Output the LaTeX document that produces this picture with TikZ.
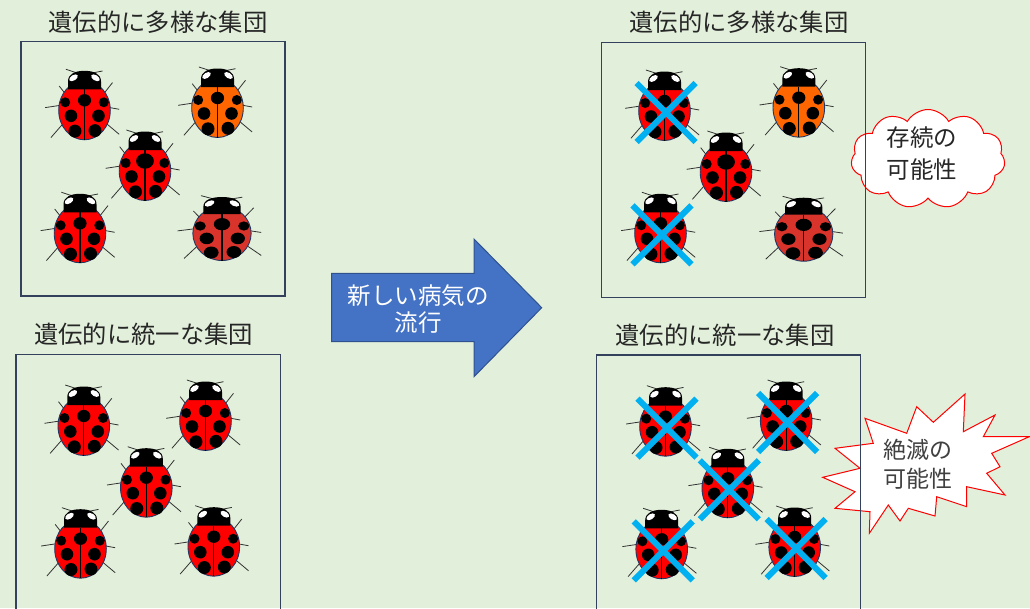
\documentclass[tikz,border=0pt]{standalone}
\usepackage{fontspec}
\setmainfont{Noto Sans CJK JP}
\usetikzlibrary{shapes.symbols}

\definecolor{bg}{HTML}{E2EFDA}
\definecolor{boxline}{HTML}{33415C}
\definecolor{titletext}{HTML}{262626}
\definecolor{bugred}{HTML}{FF0000}
\definecolor{bugorange}{HTML}{FF6600}
\definecolor{bugdark}{HTML}{D9342B}
\definecolor{bugedge}{HTML}{203864}
\definecolor{legline}{HTML}{333333}
\definecolor{crossblue}{HTML}{00B0F0}
\definecolor{arrowfill}{HTML}{4472C4}
\definecolor{arrowedge}{HTML}{2F528F}
\definecolor{burstgray}{HTML}{404040}

% one ladybug: #1 origin, #2 body colour, #3 x-scale, #4 y-scale, #5 centre-spot scale
\newcommand\ladybug[5]{%
  \pgfmathsetmacro\spotrx{6.6*#5}%
  \pgfmathsetmacro\spotry{6.2*(0.3+0.7*#5)}%
  \begin{scope}[shift={(#1)}, xscale=#3, yscale=#4]
    % antennae and legs
    \draw[bugleg] (-18.6,-43) -- (-5.3,-38.7);
    \draw[bugleg] (4.7,-38.7) -- (18,-41.3);
    \draw[bugleg] (-25.3,-26.3) -- (-18,-17);
    \draw[bugleg] (-39.3,-4.7) -- (-22,-7.3);
    \draw[bugleg] (-33.6,25.3) -- (-22,12);
    \draw[bugleg] (28,-29.7) -- (18,-17);
    \draw[bugleg] (34.7,-3) -- (22,-5.3);
    \draw[bugleg] (34.7,22) -- (21,10.5);
    % body
    \filldraw[fill=#2, draw=bugedge, line width=0.9pt] (0,-2) ellipse [x radius=25.8, y radius=29.5];
    % head
    \fill[black] (-16.5,-23) -- (-16.5,-31) .. controls (-16.5,-38.5) and (-9,-41.5) .. (0,-41.5)
      .. controls (9,-41.5) and (16.5,-38.5) .. (16.5,-31) -- (16.5,-23) -- cycle;
    % eye highlights
    \fill[white, rotate around={32:(-11,-34.5)}] (-11,-34.5) ellipse [x radius=4.8, y radius=2.7];
    \fill[white, rotate around={-32:(11,-34.5)}] (11,-34.5) ellipse [x radius=4.8, y radius=2.7];
    % wing seam
    \draw[black, line width=1.1pt] (0,-23) -- (0,27.5);
    % spots
    \fill[black] (-19.3,-10) circle [radius=5];
    \fill[black] (19.3,-10) circle [radius=5];
    \fill[black] (0,-12) ellipse [x radius=\spotrx, y radius=\spotry];
    \fill[black] (-13.5,3.5) circle [radius=6.3];
    \fill[black] (14,3.5) circle [radius=6.3];
    \fill[black] (-9.5,18.8) circle [radius=6.5];
    \fill[black] (10.5,18.3) circle [radius=6.5];
  \end{scope}}

% a blue X over a ladybug
\newcommand\crossout[1]{%
  \begin{scope}[shift={(#1)}]
    \draw[xmark] (-28,-30) -- (31,29);
    \draw[xmark] (31,-30) -- (-28,29);
  \end{scope}}

\begin{document}
\begin{tikzpicture}[x=1pt, y=-1pt,
  groupbox/.style={draw=boxline, line width=1.3pt, inner sep=0pt, fill=none},
  grouptitle/.style={text=titletext, font=\fontsize{24.3}{28}\selectfont, inner sep=0pt},
  bugleg/.style={draw=legline, line width=0.8pt},
  xmark/.style={draw=crossblue, line width=6pt},
  calltext/.style={align=center, inner sep=0pt, font=\fontsize{23}{31}\selectfont}]

\fill[bg] (0,0) rectangle (1030,608);
\useasboundingbox (0,0) rectangle (1030,608);

% speech shapes on the right
\node[cloud, cloud puffs=11, cloud puff arc=120, aspect=1.6, draw=red, fill=white,
  line width=1pt, minimum width=154pt, minimum height=99pt, inner sep=0pt] (hope) at (928,159) {};
\node[calltext, text=titletext, font=\fontsize{23.5}{32}\selectfont] (hopetext) at (922,154) {存続の\\可能性};

\draw[red, fill=white, line width=1pt]
  (965,394) -- (963.3,431.7) -- (995,415) -- (983.3,436.7) -- (1029.3,436.7)
  -- (991.7,453.3) -- (1000,466.7) -- (986.7,473.3) -- (1005,495) -- (966.7,486.7)
  -- (966.7,506.7) -- (936.7,496.7) -- (935,516) -- (908.3,508.3) -- (900,521)
  -- (888.3,505) -- (869.3,533.3) -- (870,511.7) -- (835,508.3) -- (855,491.7)
  -- (822.7,477.3) -- (860,468.3) -- (835,448.3) -- (873.3,443.3) -- (865,418.3)
  -- (906.7,433.3) -- (916.7,406.7) -- (933.3,422.3) -- cycle;
\node[calltext, text=burstgray, font=\fontsize{23}{28.5}\selectfont] (doomtext) at (918,464) {絶滅の\\可能性};

% group frames
\node[groupbox, minimum width=264pt, minimum height=254.3pt] (boxA) at (153,168.85) {};
\node[groupbox, minimum width=264.7pt, minimum height=270pt] (boxB) at (148.35,489.3) {};
\node[groupbox, minimum width=264pt, minimum height=254.6pt] (boxC) at (733.7,170) {};
\node[groupbox, minimum width=264pt, minimum height=270pt] (boxD) at (728.7,490) {};

% group titles
\node[grouptitle] (titleA) at (158,22) {遺伝的に多様な集団};
\node[grouptitle] (titleB) at (143.7,334) {遺伝的に統一な集団};
\node[grouptitle] (titleC) at (739,22) {遺伝的に多様な集団};
\node[grouptitle] (titleD) at (725,335) {遺伝的に統一な集団};

% ladybug positions
\coordinate (a1) at (84.5,112.3);
\coordinate (a2) at (217.5,110);
\coordinate (a3) at (145,173);
\coordinate (a4) at (80,235.3);
\coordinate (a5) at (222,235.2);
\coordinate (c1) at (83.8,428);
\coordinate (c2) at (205.5,423);
\coordinate (c3) at (146.3,489.7);
\coordinate (c4) at (80.5,550.7);
\coordinate (c5) at (213.8,548.7);
\coordinate (b1) at (664.5,113);
\coordinate (b2) at (798.8,109.7);
\coordinate (b3) at (726,174);
\coordinate (b4) at (660.5,235.3);
\coordinate (b5) at (803.7,235.9);
\coordinate (d1) at (665.5,428.7);
\coordinate (d2) at (786.2,423);
\coordinate (d3) at (727.8,490.3);
\coordinate (d4) at (661.7,551.3);
\coordinate (d5) at (794.7,549);

% diverse group
\ladybug{a1}{bugred}{1}{1}{1}
\ladybug{a2}{bugorange}{1}{1}{1}
\ladybug{a3}{bugred}{1}{1}{1.35}
\ladybug{a4}{bugred}{1}{1}{1}
\ladybug{a5}{bugdark}{1.13}{0.92}{1.1}
% uniform group
\ladybug{c1}{bugred}{1}{1}{1}
\ladybug{c2}{bugred}{1}{1}{1}
\ladybug{c3}{bugred}{1}{1}{1}
\ladybug{c4}{bugred}{1}{1}{1}
\ladybug{c5}{bugred}{1}{1}{1}
% diverse group after the disease
\ladybug{b1}{bugred}{1}{1}{1}
\ladybug{b2}{bugorange}{1}{1}{1}
\ladybug{b3}{bugred}{1}{1}{1.35}
\ladybug{b4}{bugred}{1}{1}{1}
\ladybug{b5}{bugdark}{1.13}{0.92}{1.1}
% uniform group after the disease
\ladybug{d1}{bugred}{1}{1}{1}
\ladybug{d2}{bugred}{1}{1}{1}
\ladybug{d3}{bugred}{1}{1}{1}
\ladybug{d4}{bugred}{1}{1}{1}
\ladybug{d5}{bugred}{1}{1}{1}

% losses
\crossout{b1}
\crossout{b4}
\crossout{d1}
\crossout{d2}
\crossout{d3}
\crossout{d4}
\crossout{d5}

% disease arrow
\draw[fill=arrowfill, draw=arrowedge, line width=1pt]
  (331.7,273.3) -- (474,273.3) -- (474,239) -- (541.7,307.7) -- (474,376.7)
  -- (474,341.7) -- (331.7,341.7) -- cycle;
\node[calltext, text=white, font=\fontsize{23.5}{26.6}\selectfont] (disease) at (418,309) {新しい病気の\\流行};

\end{tikzpicture}
\end{document}
